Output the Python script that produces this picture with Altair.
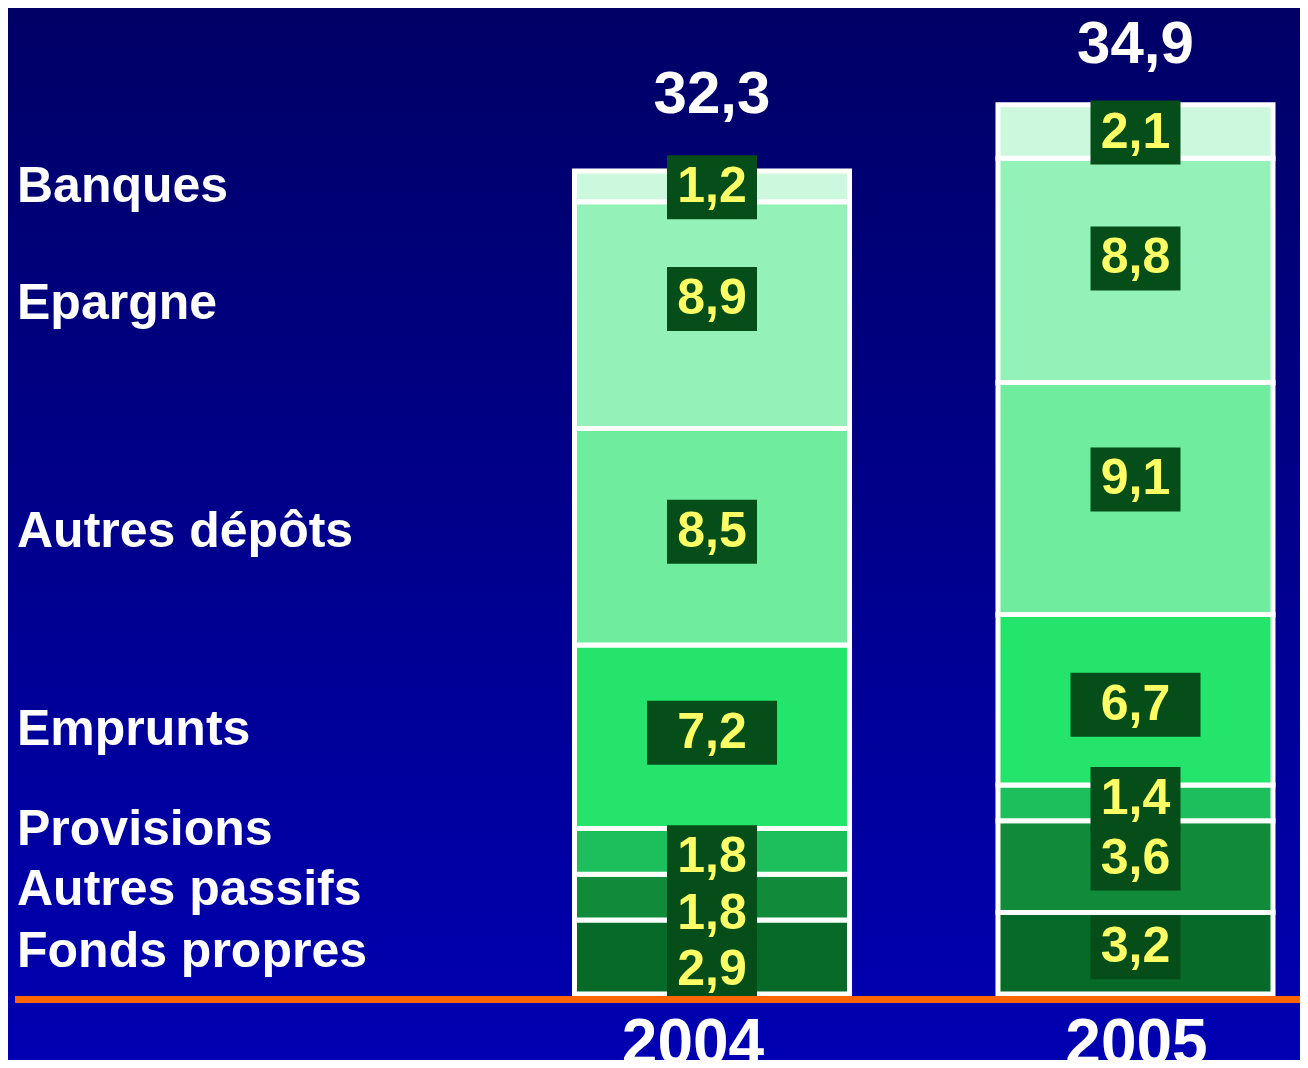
import altair as alt
import pandas as pd

categories = ["Fonds propres", "Autres passifs", "Provisions", "Emprunts",
              "Autres dépôts", "Epargne", "Banques"]
years = ["2004", "2005"]
values_2004 = [2.9, 1.8, 1.8, 7.2, 8.5, 8.9, 1.2]
values_2005 = [3.2, 3.6, 1.4, 6.7, 9.1, 8.8, 2.1]
colors = ["#086a28", "#118a3a", "#1cbf5c", "#24e46c", "#70ec9e", "#94f2b8", "#ccf8dd"]

# label placement nudges in pixels (positive = downwards), styling only
value_label_nudge = {
    "2004": [13, 17, 6, -4, -5, -16, 1],
    "2005": [-6, -8, -4, 5, -19, -12, 1],
}
side_label_nudge = [-5, -7, -21, -7, -5, -11, 1]
total_nudge = {"2004": -8, "2005": 8}
year_dx = {"2004": -19, "2005": 1}

W, H = 1292, 1052
FONT = "Liberation Sans"
Y_MAX = 38.7
Y0_PX = 986
PX_PER_UNIT = Y0_PX / Y_MAX

rows = []
for yr, vals in zip(years, [values_2004, values_2005]):
    for i, (c, v) in enumerate(zip(categories, vals)):
        rows.append({"year": yr, "category": c, "value": v, "order": i,
                     "label": f"{v:.1f}".replace(".", ","),
                     "lnudge": value_label_nudge[yr][i] / PX_PER_UNIT,
                     "snudge": side_label_nudge[i] / PX_PER_UNIT})
df = pd.DataFrame(rows)

xscale = alt.Scale(domain=years, range=[566.5, 1265], paddingInner=0.3506, paddingOuter=0)
yscale = alt.Scale(domain=[0, Y_MAX], range=[Y0_PX, 0], nice=False, zero=False)
X = alt.X("year:N", scale=xscale, axis=None)

base = (alt.Chart(df)
        .transform_stack(stack="value", groupby=["year"],
                         sort=[alt.SortField("order", "ascending")], as_=["y0", "y1"])
        .transform_calculate(mid="(datum.y0 + datum.y1) / 2",
                             ly="(datum.y0 + datum.y1) / 2 - datum.lnudge",
                             sy="(datum.y0 + datum.y1) / 2 - datum.snudge"))

gradient = alt.LinearGradient(
    gradient="linear",
    stops=[alt.GradientStop(color="#000066", offset=0),
           alt.GradientStop(color="#0000b2", offset=1)],
    x1=0, x2=0, y1=0, y2=1)

bg = alt.Chart(alt.Data(values=[{}])).mark_rect(color=gradient).encode(
    x=alt.value(0), x2=alt.value(W), y=alt.value(0), y2=alt.value(H))

orange = alt.Chart(alt.Data(values=[{}])).mark_rule(color="#ff6600", strokeWidth=7).encode(
    x=alt.value(7), x2=alt.value(W), y=alt.value(991.5))

bars = base.mark_bar(stroke="white", strokeWidth=5, strokeJoin="miter").encode(
    x=X,
    y=alt.Y("y1:Q", scale=yscale, axis=None),
    y2="y0:Q",
    color=alt.Color("category:N", scale=alt.Scale(domain=categories, range=colors), legend=None),
)

LY = alt.Y("ly:Q", scale=yscale, axis=None)

box_n = base.transform_filter("datum.category != 'Emprunts'").mark_point(
    shape="M-1,-0.711L1,-0.711L1,0.711L-1,0.711Z", size=8100, filled=True,
    color="#054d19", opacity=1, strokeWidth=0).encode(x=X, y=LY)

box_w = base.transform_filter("datum.category == 'Emprunts'").mark_point(
    shape="M-1,-0.492L1,-0.492L1,0.492L-1,0.492Z", size=16900, filled=True,
    color="#054d19", opacity=1, strokeWidth=0).encode(x=X, y=LY)

vals = base.mark_text(font=FONT, fontSize=50, fontWeight="bold", color="#ffff66",
                      baseline="middle", align="center").encode(
    x=X, y=LY, text="label:N")

left = base.transform_filter("datum.year == '2004'").mark_text(
    font=FONT, fontSize=50, fontWeight="bold", color="white",
    baseline="middle", align="left").encode(
    x=alt.value(9), y=alt.Y("sy:Q", scale=yscale, axis=None), text="category:N")

layers = [bg, bars, box_n, box_w, orange, vals, left]

for yr in years:
    tot = (alt.Chart(df)
           .transform_filter(f"datum.year == '{yr}'")
           .transform_aggregate(total="sum(value)", groupby=["year"])
           .transform_calculate(tl="replace(format(datum.total, '.1f'), '.', ',')")
           .mark_text(font=FONT, fontSize=60, fontWeight="bold", color="white",
                      baseline="alphabetic", align="center", dy=-50 + total_nudge[yr])
           .encode(x=X, y=alt.Y("total:Q", scale=yscale, axis=None), text="tl:N"))
    ylab = (alt.Chart(df)
            .transform_filter(f"datum.year == '{yr}'")
            .transform_aggregate(n="count()", groupby=["year"])
            .mark_text(font=FONT, fontSize=64, fontWeight="bold", color="white",
                       baseline="alphabetic", align="center", dx=year_dx[yr])
            .encode(x=X, y=alt.value(1056), text="year:N"))
    layers += [tot, ylab]

chart = alt.layer(*layers).properties(
    width=W, height=H, autosize=alt.AutoSizeParams(type="none"), padding=0,
    background="#000066"
).configure_view(stroke=None)

chart.save("out.html", embed_options={"renderer": "svg", "actions": False})
